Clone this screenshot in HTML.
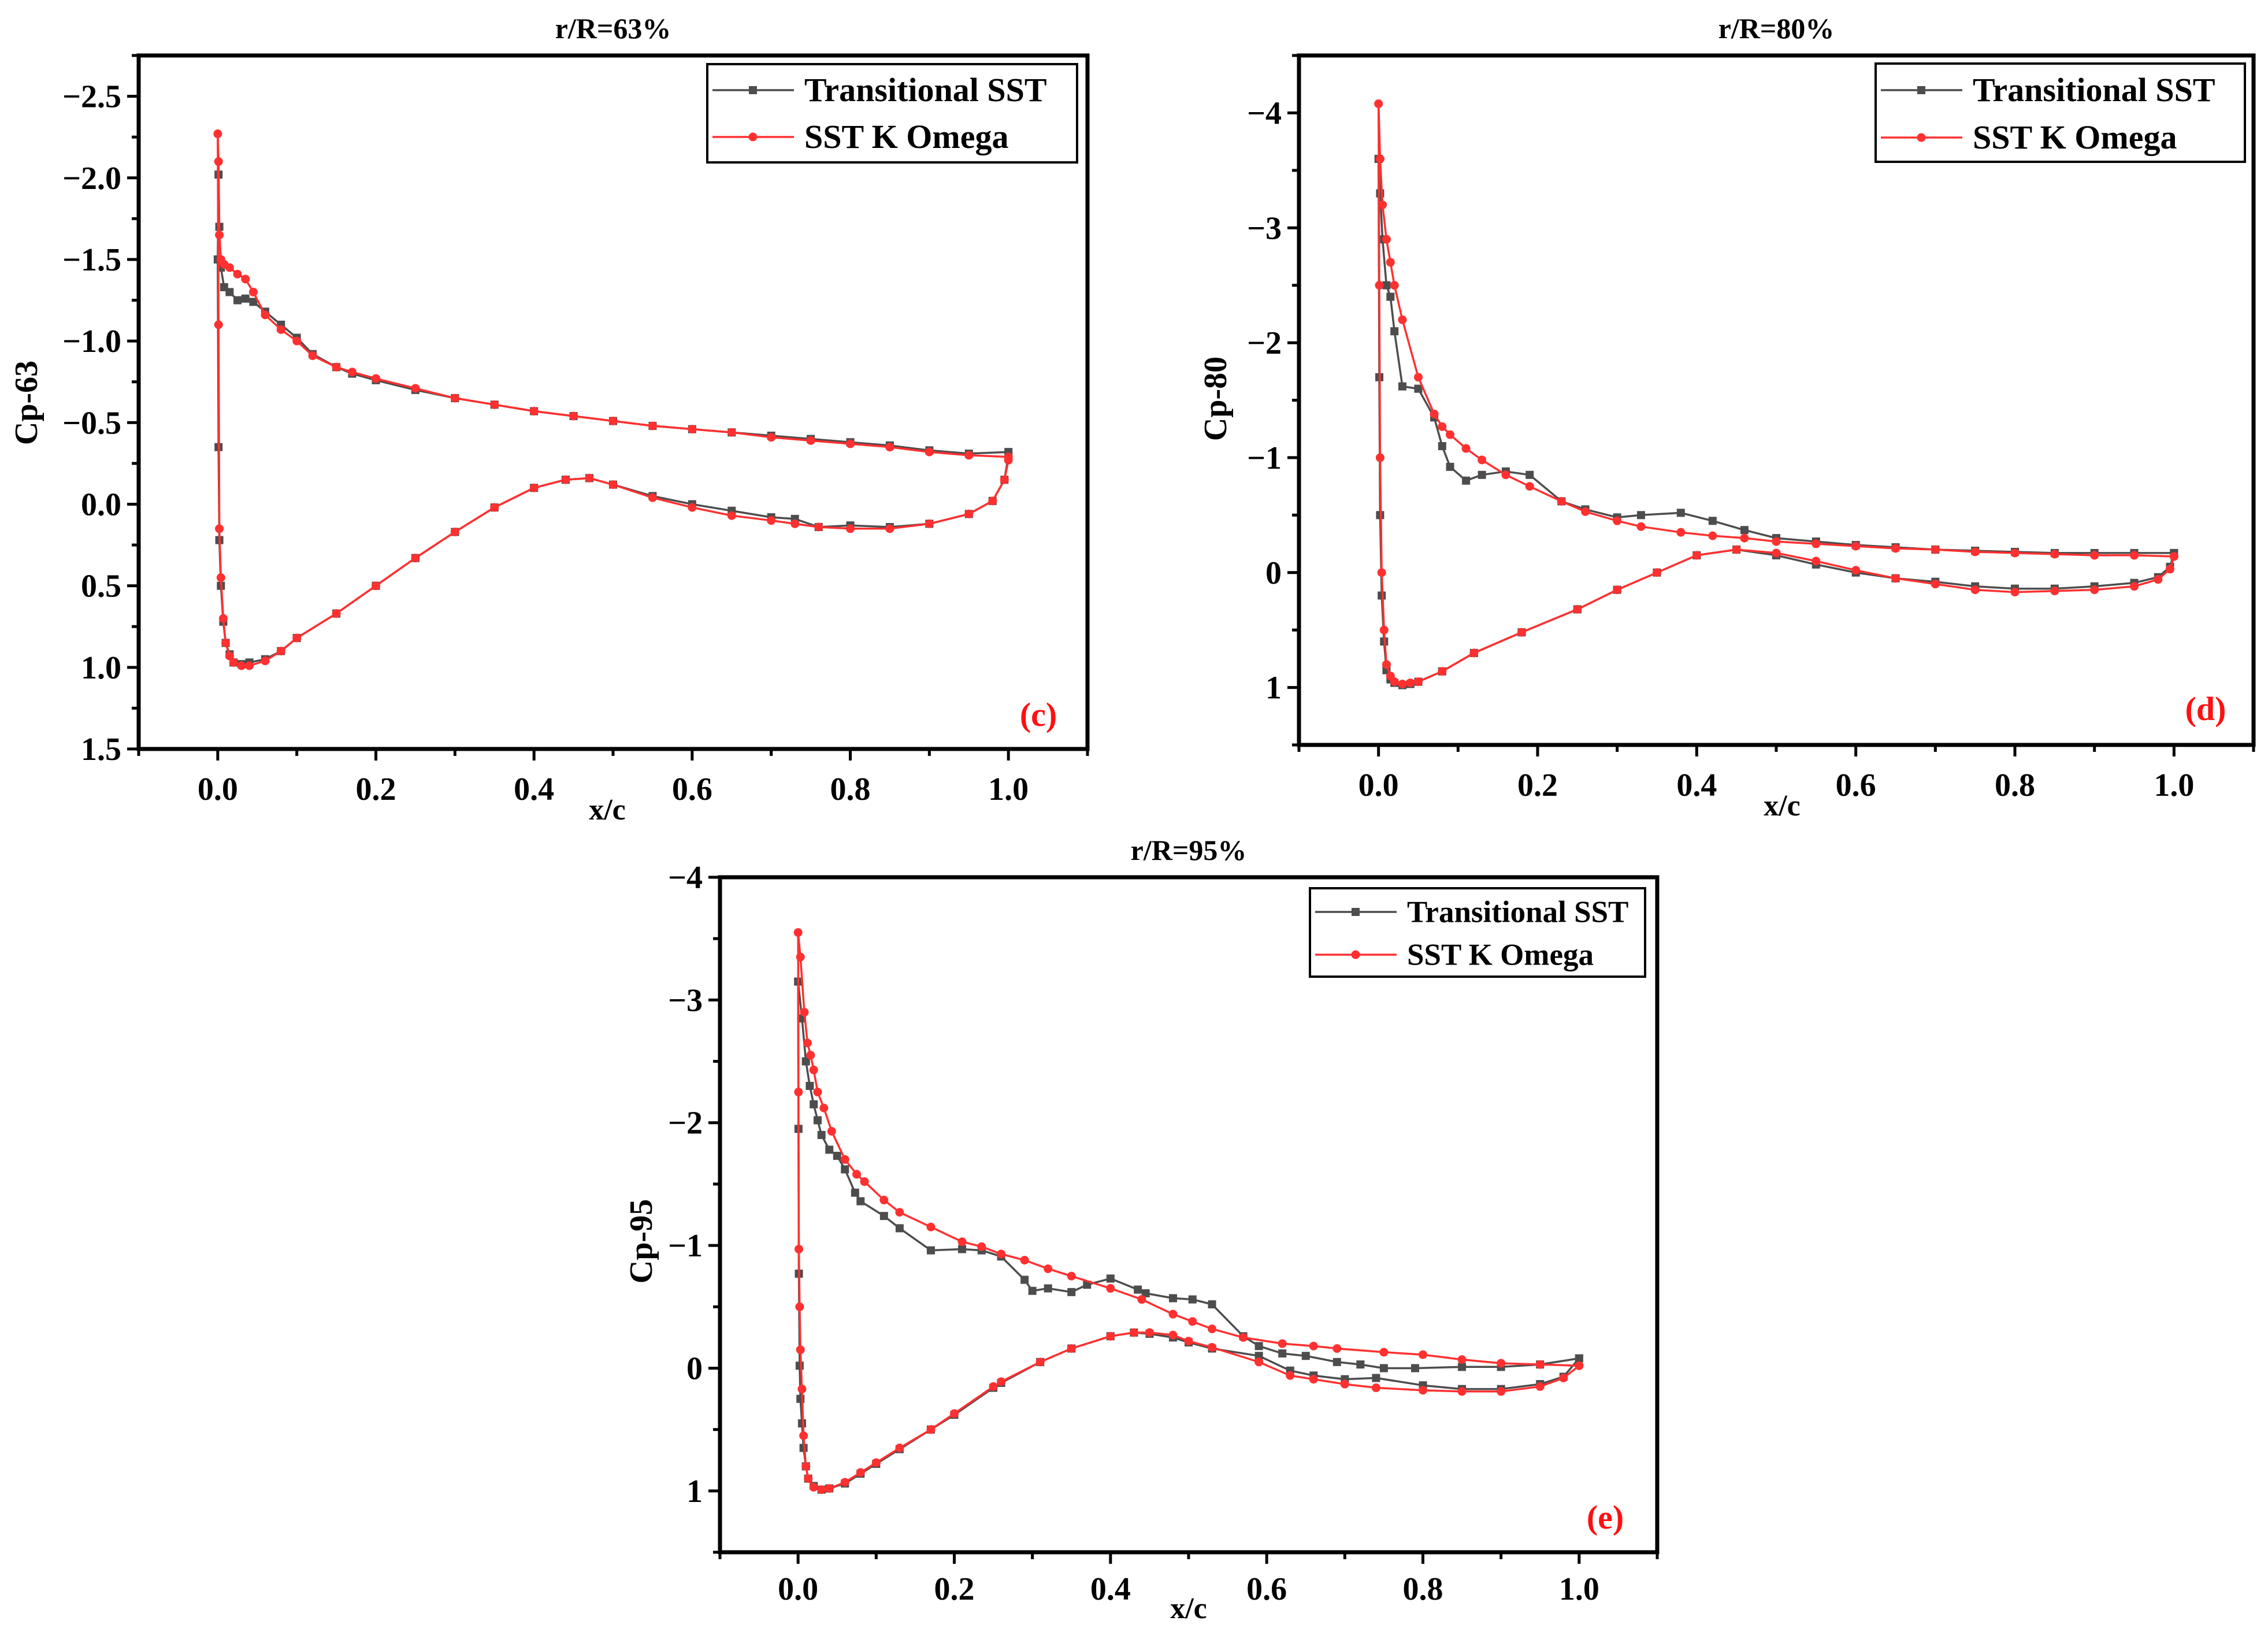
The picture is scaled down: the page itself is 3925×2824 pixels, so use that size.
<!DOCTYPE html>
<html><head><meta charset="utf-8"><style>
html,body{margin:0;padding:0;background:#fff;}
svg{display:block;font-family:"Liberation Serif",serif;font-weight:bold;}
</style></head><body>
<svg id="fig" width="3925" height="2824" viewBox="0 0 3925 2824" xmlns="http://www.w3.org/2000/svg"></svg>
<script>
// ---- data: panel c (r/R=63%) ----
const cUpperX=[1.0,0.95,0.9,0.85,0.8,0.75,0.7,0.65,0.6,0.55,0.5,0.45,0.4,0.35,0.3,0.25,0.2,0.17,0.15,0.12,0.1,0.08,0.06,0.045,0.035,0.025,0.015,0.008,0.004,0.002,0.001,0.0];
const cLowerX=[0.001,0.002,0.004,0.007,0.01,0.015,0.02,0.03,0.04,0.06,0.08,0.1,0.15,0.2,0.25,0.3,0.35,0.4,0.44,0.47,0.5,0.55,0.6,0.65,0.7,0.73,0.76,0.8,0.85,0.9,0.95,0.98,0.995,1.0];
const cTransUpper=[-0.32,-0.31,-0.33,-0.36,-0.38,-0.40,-0.42,-0.44,-0.46,-0.48,-0.51,-0.54,-0.57,-0.61,-0.65,-0.70,-0.76,-0.80,-0.84,-0.92,-1.02,-1.10,-1.18,-1.24,-1.26,-1.25,-1.3,-1.33,-1.45,-1.7,-2.02,-1.5];
const cTransLower=[-0.35,0.22,0.5,0.72,0.85,0.92,0.97,0.98,0.97,0.95,0.9,0.82,0.67,0.5,0.33,0.17,0.02,-0.1,-0.15,-0.16,-0.12,-0.05,0.0,0.04,0.08,0.09,0.14,0.13,0.14,0.12,0.06,-0.02,-0.15,-0.3];
const cSstUpper=[-0.29,-0.30,-0.32,-0.35,-0.37,-0.39,-0.41,-0.44,-0.46,-0.48,-0.51,-0.54,-0.57,-0.61,-0.65,-0.71,-0.77,-0.81,-0.84,-0.91,-1.0,-1.07,-1.16,-1.3,-1.38,-1.41,-1.45,-1.47,-1.5,-1.65,-2.1,-2.27];
const cSstLower=[-1.1,0.15,0.45,0.7,0.85,0.93,0.97,0.99,0.99,0.96,0.9,0.82,0.67,0.5,0.33,0.17,0.02,-0.1,-0.15,-0.16,-0.12,-0.04,0.02,0.07,0.1,0.12,0.14,0.15,0.15,0.12,0.06,-0.02,-0.15,-0.27];
// ---- data: panel d (r/R=80%) ----
const dUpperX=[1.0,0.95,0.9,0.85,0.8,0.75,0.7,0.65,0.6,0.55,0.5,0.46,0.42,0.38,0.33,0.3,0.26,0.23,0.19,0.16,0.13,0.11,0.09,0.08,0.07,0.05,0.03,0.02,0.015,0.01,0.005,0.002,0.0];
const dLowerX=[0.001,0.002,0.004,0.007,0.01,0.015,0.02,0.03,0.04,0.05,0.08,0.12,0.18,0.25,0.3,0.35,0.4,0.45,0.5,0.55,0.6,0.65,0.7,0.75,0.8,0.85,0.9,0.95,0.98,0.995,1.0];
const dTransUpper=[-0.17,-0.17,-0.17,-0.17,-0.18,-0.19,-0.2,-0.22,-0.24,-0.27,-0.3,-0.37,-0.45,-0.52,-0.5,-0.48,-0.55,-0.62,-0.85,-0.88,-0.85,-0.8,-0.92,-1.1,-1.35,-1.6,-1.62,-2.1,-2.4,-2.5,-2.9,-3.3,-3.6];
const dTransLower=[-1.7,-0.5,0.2,0.6,0.85,0.93,0.96,0.98,0.97,0.95,0.86,0.7,0.52,0.32,0.15,0.0,-0.15,-0.2,-0.15,-0.07,0.0,0.05,0.08,0.12,0.14,0.14,0.12,0.09,0.04,-0.05,-0.17];
const dSstUpper=[-0.14,-0.15,-0.15,-0.16,-0.17,-0.18,-0.2,-0.21,-0.23,-0.25,-0.27,-0.3,-0.32,-0.35,-0.4,-0.45,-0.53,-0.62,-0.75,-0.85,-0.98,-1.08,-1.2,-1.27,-1.38,-1.7,-2.2,-2.5,-2.7,-2.9,-3.2,-3.6,-4.08];
const dSstLower=[-2.5,-1.0,0.0,0.5,0.8,0.9,0.95,0.97,0.96,0.95,0.86,0.7,0.52,0.32,0.15,0.0,-0.15,-0.2,-0.17,-0.1,-0.02,0.05,0.1,0.15,0.17,0.16,0.15,0.12,0.06,-0.03,-0.14];
// ---- data: panel e (r/R=95%) ----
const eTransUpperX=[1.0,0.95,0.9,0.85,0.79,0.75,0.72,0.69,0.65,0.62,0.59,0.57,0.53,0.505,0.48,0.445,0.435,0.4,0.37,0.35,0.32,0.3,0.29,0.26,0.235,0.21,0.17,0.13,0.11,0.08,0.073,0.06,0.05,0.04,0.03,0.025,0.02,0.015,0.01,0.005,0.0];
const eTransUpper=[-0.08,-0.03,-0.01,-0.01,0.0,0.0,-0.03,-0.05,-0.1,-0.12,-0.18,-0.26,-0.52,-0.56,-0.57,-0.61,-0.64,-0.73,-0.68,-0.62,-0.65,-0.63,-0.72,-0.91,-0.96,-0.97,-0.96,-1.14,-1.24,-1.36,-1.43,-1.62,-1.73,-1.78,-1.9,-2.02,-2.15,-2.3,-2.5,-2.85,-3.15];
const eSstUpperX=[1.0,0.95,0.9,0.85,0.8,0.75,0.69,0.66,0.62,0.57,0.53,0.505,0.48,0.44,0.4,0.35,0.32,0.29,0.26,0.235,0.21,0.17,0.13,0.11,0.085,0.075,0.06,0.043,0.033,0.025,0.02,0.016,0.012,0.008,0.003,0.0];
const eSstUpper=[-0.02,-0.03,-0.04,-0.07,-0.11,-0.13,-0.16,-0.18,-0.2,-0.25,-0.32,-0.38,-0.44,-0.56,-0.65,-0.75,-0.81,-0.88,-0.93,-0.99,-1.03,-1.15,-1.27,-1.37,-1.52,-1.58,-1.7,-1.93,-2.12,-2.25,-2.43,-2.55,-2.65,-2.9,-3.35,-3.55];
const eLowerX=[0.0005,0.001,0.002,0.003,0.005,0.007,0.01,0.013,0.02,0.03,0.04,0.06,0.08,0.1,0.13,0.17,0.2,0.25,0.26,0.31,0.35,0.4,0.43,0.45,0.48,0.5,0.53,0.59,0.63,0.66,0.7,0.74,0.8,0.85,0.9,0.95,0.98,1.0];
const eTransLower=[-1.95,-0.77,-0.02,0.25,0.45,0.65,0.8,0.9,0.96,0.99,0.98,0.94,0.86,0.78,0.66,0.5,0.38,0.16,0.12,-0.05,-0.16,-0.26,-0.29,-0.28,-0.25,-0.21,-0.16,-0.1,0.02,0.06,0.09,0.08,0.14,0.17,0.17,0.13,0.07,-0.08];
const eSstLower=[-2.25,-0.97,-0.5,-0.15,0.17,0.55,0.8,0.9,0.97,0.99,0.98,0.93,0.85,0.77,0.65,0.5,0.37,0.15,0.11,-0.05,-0.16,-0.26,-0.29,-0.29,-0.27,-0.22,-0.17,-0.05,0.06,0.09,0.13,0.16,0.18,0.19,0.19,0.15,0.08,-0.02];
// ---- ticks ----
const xTicks=[0.0,0.2,0.4,0.6,0.8,1.0];
const xTickLabels=["0.0","0.2","0.4","0.6","0.8","1.0"];
const cYTicks=[-2.5,-2.0,-1.5,-1.0,-0.5,0.0,0.5,1.0,1.5];
const cYTickLabels=["\u22122.5","\u22122.0","\u22121.5","\u22121.0","\u22120.5","0.0","0.5","1.0","1.5"];
const deYTicks=[-4,-3,-2,-1,0,1];
const deYTickLabels=["\u22124","\u22123","\u22122","\u22121","0","1"];
const seriesNames=["Transitional SST","SST K Omega"];

const NS="http://www.w3.org/2000/svg";
const fig=document.getElementById('fig');
function mk(tag,attrs,parent){const e=document.createElementNS(NS,tag);for(const k in attrs)e.setAttribute(k,attrs[k]);(parent||fig).appendChild(e);return e;}

const GRAY="#4d4d4d",RED="#ff3030";

function panel(p){
  const g=mk('g',{});
  
  
  const sx=v=>p.L+(v-p.xmin)/(p.xmax-p.xmin)*(p.R-p.L);
  const sy=v=>p.T+(v-p.ymin)/(p.ymax-p.ymin)*(p.B-p.T);
  // ticks
  for(let v=p.xmin;v<=p.xmax+1e-9;v+=0.1){
    const major=Math.abs(Math.round(v*5)-v*5)<1e-6;
    const t=mk('line',{x1:sx(v),x2:sx(v),y1:p.B,y2:p.B+(major?20:12),stroke:'#000','stroke-width':5},g);
    
    
  }
  for(let v=p.ymin;v<=p.ymax+1e-9;v+=p.minor){
    const major=p.yTicks.some(q=>Math.abs(q-v)<1e-6);
    const t=mk('line',{x1:p.L,x2:p.L-(major?20:12),y1:sy(v),y2:sy(v),stroke:'#000','stroke-width':5},g);
    
    
  }
  xTicks.forEach((v,i)=>{
    const t=mk('text',{x:sx(v),y:p.B+p.xlOff,'text-anchor':'middle','font-size':56},g);
    t.textContent=xTickLabels[i];
    
    
  });
  p.yTicks.forEach((v,i)=>{
    const t=mk('text',{x:p.L-30,y:sy(v)+19,'text-anchor':'end','font-size':56},g);
    t.textContent=p.yLabels[i];
    
    
  });
  // series
  const clip=mk('clipPath',{id:'clip'+p.id},g);
  mk('rect',{x:p.L,y:p.T,width:p.R-p.L,height:p.B-p.T},clip);
  p.series.forEach((s,si)=>{
    const xs=s.ux.concat(s.lx), ys=s.ucp.concat(s.lcp);
    const pts=xs.map((x,i)=>sx(x).toFixed(1)+','+sy(ys[i]).toFixed(1)).join(' ');
    const sg=mk('g',{'clip-path':'url(#clip'+p.id+')'},g);
    
    
    const color=si===0?GRAY:RED;
    const line=mk('polyline',{points:pts,fill:'none',stroke:color,'stroke-width':3.5,'stroke-linejoin':'round'},sg);
    
    
    xs.forEach((x,i)=>{
      let m;
      if(si===0) m=mk('rect',{x:sx(x)-7,y:sy(ys[i])-7,width:14,height:14,fill:color},sg);
      else m=mk('circle',{cx:sx(x),cy:sy(ys[i]),r:7.5,fill:color},sg);
      
      
    });
  });
  // frame
  const f=mk('rect',{x:p.L,y:p.T,width:p.R-p.L,height:p.B-p.T,fill:'none',stroke:'#000','stroke-width':7},g);
  
  
  // titles
  const ti=mk('text',{x:(p.L+p.R)/2,y:p.T-30,'text-anchor':'middle','font-size':50},g);
  ti.textContent=p.title;
  
  
  const xt=mk('text',{x:p.xtX,y:p.xtY,'text-anchor':'middle','font-size':52},g);
  xt.textContent='x/c';
  
  
  const yt=mk('text',{x:0,y:0,'text-anchor':'middle','font-size':56,transform:'translate('+p.ytX+','+p.ytY+') rotate(-90)'},g);
  yt.textContent=p.ytitle;
  
  
  const lab=mk('text',{x:p.labX,y:p.labY,'text-anchor':'middle','font-size':58,fill:'#ff1010'},g);
  lab.textContent=p.lab;
  
  
  // legend
  const lg=mk('g',{},g);
  
  
  const lb=p.leg;
  mk('rect',{x:lb.x,y:lb.y,width:lb.w,height:lb.h,fill:'#fff',stroke:'#000','stroke-width':4},lg);
  seriesNames.forEach((n,i)=>{
    const e=mk('g',{},lg);
    
    
    const cy=lb.rows[i];const color=i===0?GRAY:RED;
    mk('line',{x1:lb.x+9,x2:lb.x+150,y1:cy,y2:cy,stroke:color,'stroke-width':3.5},e);
    if(i===0) mk('rect',{x:lb.x+79-7,y:cy-7,width:14,height:14,fill:color},e);
    else mk('circle',{cx:lb.x+79,cy:cy,r:7.5,fill:color},e);
    const t=mk('text',{x:lb.x+168,y:cy+lb.fs*0.33,'font-size':lb.fs},e);
    t.textContent=n;
  });
}

panel({id:'c',L:240,R:1882,T:96,B:1296,xmin:-0.1,xmax:1.1,ymin:-2.75,ymax:1.5,minor:0.25,
  yTicks:cYTicks,yLabels:cYTickLabels,title:'r/R=63%',ytitle:'Cp-63',ytX:64,ytY:697,xtX:1051,xtY:1418,xlOff:88,
  lab:'(c)',labX:1797,labY:1256,
  leg:{x:1224,y:111,w:640,h:170,rows:[156,237],fs:58},
  series:[{ux:cUpperX,ucp:cTransUpper,lx:cLowerX,lcp:cTransLower},{ux:cUpperX,ucp:cSstUpper,lx:cLowerX,lcp:cSstLower}]});
panel({id:'d',L:2248,R:3900,T:96,B:1289,xmin:-0.1,xmax:1.1,ymin:-4.5,ymax:1.5,minor:0.5,
  yTicks:deYTicks,yLabels:deYTickLabels,title:'r/R=80%',ytitle:'Cp-80',ytX:2122,ytY:690,xtX:3084,xtY:1411,xlOff:88,
  lab:'(d)',labX:3817,labY:1246,
  leg:{x:3246,y:110,w:639,h:170,rows:[156,238],fs:58},
  series:[{ux:dUpperX,ucp:dTransUpper,lx:dLowerX,lcp:dTransLower},{ux:dUpperX,ucp:dSstUpper,lx:dLowerX,lcp:dSstLower}]});
panel({id:'e',L:1246,R:2868,T:1518,B:2686,xmin:-0.1,xmax:1.1,ymin:-4,ymax:1.5,minor:0.5,
  yTicks:deYTicks,yLabels:deYTickLabels,title:'r/R=95%',ytitle:'Cp-95',ytX:1128,ytY:2148,xtX:2057,xtY:2800,xlOff:82,
  lab:'(e)',labX:2778,labY:2645,
  leg:{x:2267,y:1537,w:580,h:153,rows:[1578,1652],fs:53},
  series:[{ux:eTransUpperX,ucp:eTransUpper,lx:eLowerX,lcp:eTransLower},{ux:eSstUpperX,ucp:eSstUpper,lx:eLowerX,lcp:eSstLower}]});
</script>
</body></html>
